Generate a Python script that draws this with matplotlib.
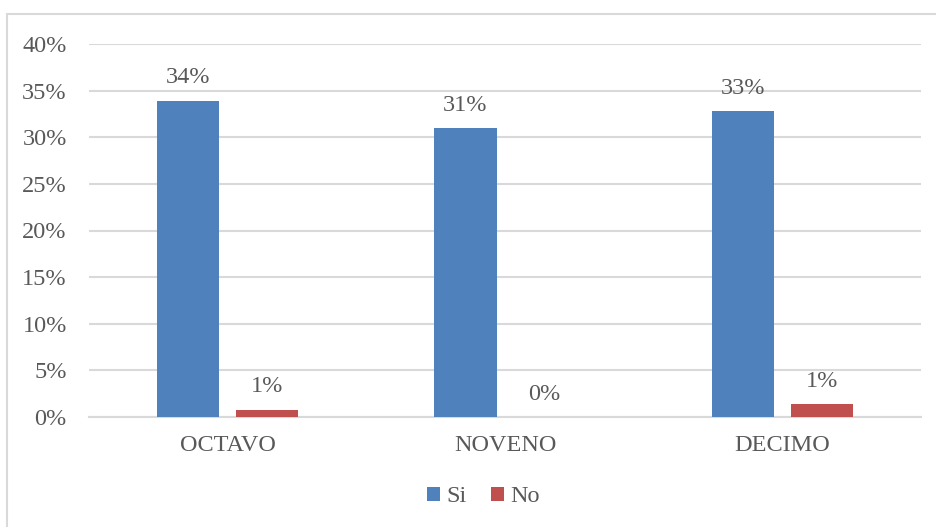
import matplotlib
matplotlib.use("Agg")
import matplotlib.pyplot as plt
from matplotlib.patches import Rectangle
import numpy as np

# Data
categories = ["OCTAVO", "NOVENO", "DECIMO"]
si_values = [0.339, 0.310, 0.328]
no_values = [0.008, 0.0, 0.014]
si_labels = ["34%", "31%", "33%"]
no_labels = ["1%", "0%", "1%"]
yticks = [0.0, 0.05, 0.10, 0.15, 0.20, 0.25, 0.30, 0.35, 0.40]

BLUE = "#4F81BD"
RED = "#C0504D"
TEXT = "#595959"
GRID = "#D9D9D9"
FS = 17.5

plt.rcParams["font.family"] = ["Liberation Serif", "DejaVu Serif"]

fig = plt.figure(figsize=(9.36, 5.27), dpi=100)
ax = fig.add_axes([89 / 936, 1 - 417 / 527, (921 - 89) / 936, (417 - 44) / 527])

# chart border (Excel-style frame, cropped on the right/bottom)
fig.patches.append(Rectangle((7 / 936, -0.05), 1.2, 1 - 14 / 527 + 0.05,
                             transform=fig.transFigure, fill=False,
                             edgecolor=GRID, linewidth=1.5))

x = np.arange(len(categories))
width = 0.224
offset = 0.1426
si_bars = ax.bar(x - offset, si_values, width, color=BLUE, label="Si", zorder=3)
no_bars = ax.bar(x + offset, no_values, width, color=RED, label="No", zorder=3)

for bars, labels in [(si_bars, si_labels), (no_bars, no_labels)]:
    for b, lab in zip(bars, labels):
        ax.annotate(lab, (b.get_x() + b.get_width() / 2, b.get_height()),
                    xytext=(0, 16.5), textcoords="offset points",
                    ha="center", va="center", fontsize=FS, color=TEXT)

ax.set_xlim(-0.5, 2.5)
ax.set_ylim(0, 0.40)
ax.set_yticks(yticks)
ax.set_yticklabels([f"{int(round(v * 100))}%" for v in yticks])
ax.set_xticks(x)
ax.set_xticklabels(categories)
ax.tick_params(axis="both", length=0, labelsize=FS, labelcolor=TEXT)
ax.tick_params(axis="x", pad=13)
ax.tick_params(axis="y", pad=16)
ax.grid(axis="y", color=GRID, linewidth=1.5, zorder=0)
for s in ["top", "right", "left"]:
    ax.spines[s].set_visible(False)
ax.spines["bottom"].set_color(GRID)
ax.spines["bottom"].set_linewidth(1.5)

fig.legend(handles=[si_bars, no_bars], labels=["Si", "No"], loc="center",
           bbox_to_anchor=(483 / 936, 1 - 497 / 527), ncol=2, frameon=False,
           fontsize=FS, labelcolor=TEXT, handlelength=0.55, handleheight=0.55,
           handletextpad=0.25, columnspacing=1.0)

fig.savefig("out.png", dpi=100)
